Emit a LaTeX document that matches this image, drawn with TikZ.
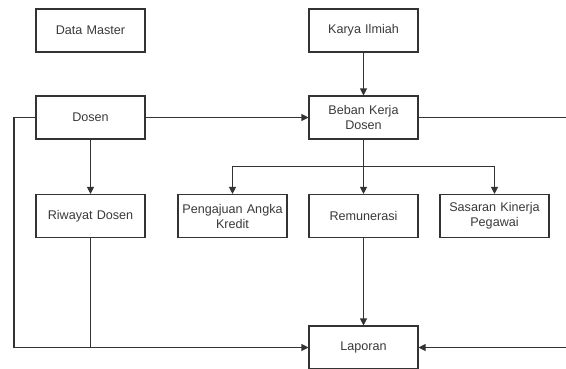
\documentclass[tikz,border=0pt]{standalone}
\usepackage{fontspec}
\setmainfont{Liberation Sans}
\usetikzlibrary{arrows.meta}

\definecolor{boxline}{HTML}{333333}
\definecolor{boxtext}{HTML}{3A3A3A}

\begin{document}
\begin{tikzpicture}[
    x=1pt, y=-1pt,
    >={Triangle[length=7pt,width=7pt]},
    % Styles
    modbox/.style={
        rectangle, draw=boxline, line width=1.1pt,
        fill=white, text=boxtext,
        font=\fontsize{12.6}{15}\selectfont, align=center,
        inner sep=0pt, minimum width=109pt, minimum height=43pt,
        text width=107pt
    },
    flow/.style={draw=boxline, line width=1.1pt},
]

%--- Frame ---%
\clip (0,0) rectangle (566,368);

%--- Modules ---%
\node[modbox] (master)  at (90.5, 30.5)  {Data Master};
\node[modbox] (karya)   at (363.5, 30.5) {Karya Ilmiah};
\node[modbox] (dosen)   at (90.5, 117.5) {Dosen};
\node[modbox] (beban)   at (363.5, 117.5) {Beban Kerja\\Dosen};
\node[modbox] (riwayat) at (90.5, 216)   {Riwayat Dosen};
\node[modbox] (pak)     at (232.5, 216)  {Pengajuan Angka\\Kredit};
\node[modbox] (remun)   at (363.5, 216)  {Remunerasi};
\node[modbox] (skp)     at (494.5, 216)  {Sasaran Kinerja\\Pegawai};
\node[modbox] (laporan) at (363.5, 347.5) {Laporan};

%--- Helper points ---
\coordinate (split)  at (363.5, 166.5);
\coordinate (lcorner) at (14, 117.5);
\coordinate (rtop)   at (580, 117.5);
\coordinate (rbot)   at (580, 347.5);

%--- Connectors ---
\draw[flow, ->] (karya.south) -- (beban.north);
\draw[flow, ->] (dosen.east) -- (beban.west);
\draw[flow, ->] (dosen.south) -- (riwayat.north);

% Beban Kerja -> three outputs
\draw[flow, ->] (beban.south) -- (remun.north);
\draw[flow, ->] (split) -| (pak.north);
\draw[flow, ->] (split) -| (skp.north);

% into Laporan
\draw[flow, ->] (remun.south) -- (laporan.north);
\draw[flow, ->] (dosen.west) -- (lcorner) |- (laporan.west);
\draw[flow] (riwayat.south) -- (riwayat.south |- laporan.west);
\draw[flow, ->] (beban.east) -- (rtop) -- (rbot) -- (laporan.east);

\end{tikzpicture}
\end{document}
